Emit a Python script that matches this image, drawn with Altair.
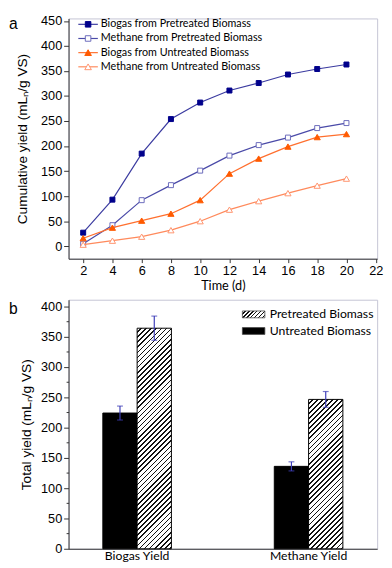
import altair as alt
import pandas as pd

# ---------------- data ----------------
days = [2, 4, 6, 8, 10, 12, 14, 16, 18, 20]
biogas_pre = [27, 93, 185, 254, 287, 311, 326, 343, 354, 363]
methane_pre = [5, 42, 92, 122, 151, 181, 202, 217, 236, 246]
biogas_un = [16, 37, 51, 65, 92, 145, 175, 199, 218, 224]
methane_un = [3, 11, 19, 32, 50, 73, 90, 106, 121, 135]
series_names = [
    "Biogas from Pretreated Biomass",
    "Methane from Pretreated Biomass",
    "Biogas from Untreated Biomass",
    "Methane from Untreated Biomass",
]

categories = ["Biogas Yield", "Methane Yield"]
treatments = ["Untreated", "Pretreated"]
legend_b = ["Pretreated Biomass", "Untreated Biomass"]
untreated_total = [224, 136]
untreated_err = [11.5, 7.5]
pretreated_total = [364, 246.5]
pretreated_err = [20, 13]

# ---------------- tables ----------------
rows = []
for name, vals in zip(series_names, [biogas_pre, methane_pre, biogas_un, methane_un]):
    for d, v in zip(days, vals):
        rows.append({"series": name, "day": d, "value": v})
df_a = pd.DataFrame(rows)

rows_b = []
for i, c in enumerate(categories):
    rows_b.append({"category": c, "treat": "Untreated", "value": untreated_total[i], "err": untreated_err[i]})
    rows_b.append({"category": c, "treat": "Pretreated", "value": pretreated_total[i], "err": pretreated_err[i]})
df_b = pd.DataFrame(rows_b)

one = pd.DataFrame({"k": [0]})

# ---------------- styles ----------------
styles = {
    series_names[0]: dict(line="#3b3ba0", shape="square", fill="#00008b", stroke="#00008b", size=26),
    series_names[1]: dict(line="#4a4aa8", shape="square", fill="white", stroke="#6b6bbb", size=26),
    series_names[2]: dict(line="#ff6f2e", shape="triangle-up", fill="#ff5a00", stroke="#ff5a00", size=40),
    series_names[3]: dict(line="#ff8a5c", shape="triangle-up", fill="white", stroke="#ff9470", size=40),
}

LABEL_FONT = "Liberation Sans"
CAL_FONT = "Lato"

W = 316
H1 = 246
H2 = 255
YMAX_B = 411

# ---------------- panel a ----------------
x_a = alt.X(
    "day:Q",
    scale=alt.Scale(domain=[1, 22.1], nice=False, zero=False),
    axis=alt.Axis(values=list(range(2, 23, 2)), title="Time (d)", tickSize=4,
                  labelPadding=2, titlePadding=3, titleFont=CAL_FONT, titleFontSize=13),
)
y_a = alt.Y(
    "value:Q",
    scale=alt.Scale(domain=[-25, 455], nice=False, zero=False),
    axis=alt.Axis(values=list(range(0, 451, 50)), title="Cumulative yield (mLₙ/g VS)",
                  tickSize=5, labelPadding=2, titlePadding=11),
)

layers_a = []
for name in series_names:
    st = styles[name]
    base = alt.Chart(df_a).transform_filter(alt.datum.series == name)
    layers_a.append(base.mark_line(color=st["line"], strokeWidth=1.2).encode(x=x_a, y=y_a))
    layers_a.append(
        base.mark_point(shape=st["shape"], filled=True, fill=st["fill"], stroke=st["stroke"],
                        strokeWidth=1, size=st["size"], opacity=1).encode(x=x_a, y=y_a)
    )

leg_y = [6, 20.5, 35, 49.5]
for name, ly in zip(series_names, leg_y):
    st = styles[name]
    b = alt.Chart(one)
    layers_a.append(b.mark_rule(color=st["line"], strokeWidth=1.2).encode(
        x=alt.value(10), x2=alt.value(30), y=alt.value(ly)))
    layers_a.append(b.mark_point(shape=st["shape"], filled=True, fill=st["fill"], stroke=st["stroke"],
                                 strokeWidth=1, size=st["size"] + 6, opacity=1).encode(
        x=alt.value(20), y=alt.value(ly)))
    layers_a.append(b.mark_text(align="left", baseline="middle", font=CAL_FONT, fontSize=11,
                                color="black").encode(
        x=alt.value(33), y=alt.value(ly), text=alt.value(name)))

layers_a.append(alt.Chart(one).mark_text(align="left", baseline="middle", font=LABEL_FONT,
                                         fontSize=16, color="black").encode(
    x=alt.value(-61), y=alt.value(6), text=alt.value("a")))

panel_a = alt.layer(*layers_a).properties(width=W, height=H1)

# ---------------- panel b ----------------
BAR_W = W / 1.8 * 0.4 / 2.0   # width of one bar in px
K = H2 / YMAX_B               # px per unit
L = 300.0                     # gradient length in px (x+y)
P = 5.2                       # hatch period (horizontal px)
LW = 1.7                      # hatch line thickness (x+y units)


def stripe_stops(length, period, lw):
    out = []
    n = int(length / period) + 1
    for i in range(n):
        s = min(i * period / length, 1.0)
        m = min((i * period + period - lw) / length, 1.0)
        e = min((i + 1) * period / length, 1.0)
        out += [(s, "white"), (m, "white"), (m, "#111111"), (e, "#111111")]
    return out


stops_js = ",".join("{offset:%.5f,color:'%s'}" % (o, c) for o, c in stripe_stops(L, P, LW))
grad_expr = (
    "datum.treat == 'Untreated' ? '#000000' : "
    "{gradient:'linear', x1:0, y1:0, x2: datum.gk * %f / datum.gh, y2: datum.gk, stops:[%s]}"
    % (BAR_W, stops_js)
)

x_b = alt.X(
    "category:N",
    sort=categories,
    scale=alt.Scale(paddingInner=0.6, paddingOuter=0.2),
    axis=alt.Axis(title=None, labelAngle=0, tickSize=0, labelPadding=1, labelFont=CAL_FONT,
                  labelFontSize=12.5),
)
xo_b = alt.XOffset("treat:N", sort=treatments, scale=alt.Scale(paddingInner=0, paddingOuter=0))
Y_TITLE_B = "Total yield (mLₙ/g VS)"
y_scale_b = alt.Scale(domain=[0, YMAX_B], nice=False, zero=True)
y_axis_b = alt.Axis(values=list(range(0, 401, 50)), tickSize=5, labelPadding=2, titlePadding=7,
                    title=Y_TITLE_B)
y_axis_minor = alt.Axis(values=list(range(25, 401, 50)), tickSize=2.5, labels=False, domain=False,
                        title=None, orient="left")

bars = (
    alt.Chart(df_b)
    .transform_calculate(gh="datum.value * %f" % K)
    .transform_calculate(gk="%f / (datum.gh * (1 + pow(%f / datum.gh, 2)))" % (L, BAR_W))
    .transform_calculate(grad=grad_expr)
    .mark_bar(stroke="black", strokeWidth=1)
    .encode(
        x=x_b,
        xOffset=xo_b,
        y=alt.Y("value:Q", scale=y_scale_b, axis=y_axis_b),
        fill=alt.Fill("grad:N", scale=None, legend=None),
    )
)

EB = "#3d3db8"
err_base = alt.Chart(df_b).transform_calculate(lo="datum.value - datum.err", hi="datum.value + datum.err")
err_rule = err_base.mark_rule(color=EB, strokeWidth=1.2).encode(
    x=x_b, xOffset=xo_b, y=alt.Y("lo:Q", axis=None), y2="hi:Q")
cap_lo = err_base.mark_tick(color=EB, size=6, thickness=1.2).encode(
    x=x_b, xOffset=xo_b, y=alt.Y("lo:Q", axis=y_axis_minor))
cap_hi = err_base.mark_tick(color=EB, size=6, thickness=1.2).encode(
    x=x_b, xOffset=xo_b, y=alt.Y("hi:Q", axis=None))

# legend of panel b (hatched swatch gradient for a 23x7 box)
SW, SH, SL, SP = 23.0, 7.0, 40.0, 4.0
sk = SL / (SH * (1 + (SW / SH) ** 2))
swatch_grad = {
    "gradient": "linear", "x1": 0, "y1": 0, "x2": sk * SW / SH, "y2": sk,
    "stops": [{"offset": o, "color": c} for o, c in stripe_stops(SL, SP, 1.3)],
}
leg_b_layers = []
leg_b_y = [15, 32]
leg_b_fill = [swatch_grad, "#000000"]
for lab, ly, fl in zip(legend_b, leg_b_y, leg_b_fill):
    b = alt.Chart(one)
    leg_b_layers.append(b.mark_rect(stroke="#444444", strokeWidth=0.8).encode(
        x=alt.value(178), x2=alt.value(201), y=alt.value(ly - 3.5), y2=alt.value(ly + 3.5),
        fill=alt.value(fl)))
    leg_b_layers.append(b.mark_text(align="left", baseline="middle", font=CAL_FONT, fontSize=12.5,
                                    color="black").encode(
        x=alt.value(206), y=alt.value(ly), text=alt.value(lab)))

b_label = alt.Chart(one).mark_text(align="left", baseline="middle", font=LABEL_FONT,
                                   fontSize=16, color="black").encode(
    x=alt.value(-61), y=alt.value(10), text=alt.value("b"))

panel_b = (
    alt.layer(bars, err_rule, cap_lo, cap_hi, *leg_b_layers, b_label)
    .resolve_axis(y="independent")
    .properties(width=W, height=H2)
)

chart = (
    alt.vconcat(panel_a, panel_b, spacing=5)
    .properties(padding=0)
    .configure_view(stroke="#c4c4d4", strokeWidth=1)
    .configure_axis(
        grid=False, domainColor="#333333", tickColor="#333333", labelFont=LABEL_FONT,
        labelFontSize=13, labelColor="black", titleFont=LABEL_FONT, titleFontSize=14,
        titleFontWeight="normal", titleColor="black",
    )
)

chart.save("out.html", embed_options={"renderer": "svg", "actions": False})
